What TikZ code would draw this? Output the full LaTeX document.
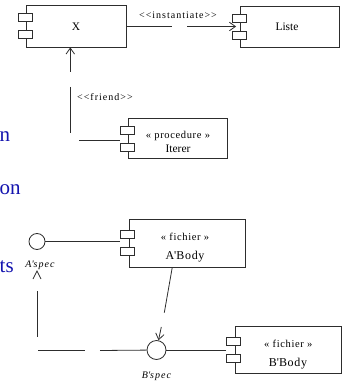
\documentclass[tikz,border=0pt]{standalone}
\usepackage{fontspec}
\setmainfont{Liberation Serif}
\usetikzlibrary{arrows.meta}

\definecolor{slideblue}{RGB}{20,20,175}
\definecolor{umlline}{RGB}{45,45,45}

\tikzset{
  compbox/.style={draw=umlline, line width=0.8pt, rectangle, inner sep=0pt},
  comptab/.style={draw=umlline, fill=white, line width=0.8pt, rectangle,
                  minimum width=14pt, minimum height=8pt, inner sep=0pt},
  iface/.style={draw=umlline, line width=0.8pt, circle, inner sep=0pt},
  conn/.style={draw=umlline, line width=0.8pt},
  openarrow/.style={-{Straight Barb[length=6pt,width=8.5pt]}},
  nametext/.style={inner sep=0pt, font=\fontsize{11.5}{13}\selectfont},
  bodytext/.style={inner sep=0pt, font=\fontsize{12}{14}\selectfont\addfontfeature{LetterSpace=6}},
  stereotext/.style={inner sep=0pt, font=\fontsize{10.5}{12}\selectfont\addfontfeature{LetterSpace=6}},
  deptext/.style={inner sep=0pt, font=\fontsize{10}{11}\selectfont\addfontfeature{LetterSpace=10}},
  ifacetext/.style={inner sep=0pt, font=\fontsize{10}{11}\selectfont\itshape\addfontfeature{LetterSpace=10}},
  slidetext/.style={inner sep=0pt, anchor=base west, text=slideblue,
                    font=\fontsize{21}{24}\selectfont},
}

% A component: a box with its two tabs straddling the left edge
\newcommand\umlcomp[4]{%
  \node[compbox, minimum width=#3, minimum height=#4] (#1) at #2 {};
  \node[comptab] (#1-a) at ([xshift=-1pt,yshift=8.5pt]#1.west) {};
  \node[comptab] (#1-b) at ([xshift=-1pt,yshift=-8.5pt]#1.west) {};
}

\begin{document}
\begin{tikzpicture}[x=1pt,y=-1pt]
  \useasboundingbox (0,0) rectangle (345,387);

  % slide text, cut at the left border
  \node[slidetext] (s1) at (-0.5,141.5) {n};
  \node[slidetext] (s2) at (-0.5,194) {on};
  \node[slidetext] (s3) at (-0.5,272) {ts};

  % components
  \umlcomp{X}{(76.25,26.25)}{99.5pt}{41.5pt}
  \umlcomp{Liste}{(289.75,26.5)}{98.5pt}{41pt}
  \umlcomp{Proc}{(178,138.5)}{99pt}{40pt}
  \umlcomp{ABody}{(187.25,243.25)}{116.5pt}{47.5pt}
  \umlcomp{BBody}{(288.25,350)}{106.5pt}{47pt}

  \node[nametext] (tX) at (76,26.7) {X};
  \node[nametext] (tListe) at (287,26.5) {Liste};
  \node[stereotext] (tProcS) at (178,136) {« procedure »};
  \node[nametext] (tProc) at (178,148.3) {Iterer};
  \node[stereotext] (tAS) at (185,237.3) {« fichier »};
  \node[bodytext] (tA) at (185,256.7) {A\textquotesingle Body};
  \node[stereotext] (tBS) at (288.3,344) {« fichier »};
  \node[bodytext] (tB) at (288,363.3) {B\textquotesingle Body};

  % interfaces
  \node[iface, minimum size=16pt] (ASpec) at (37,241.5) {};
  \node[iface, minimum size=19pt] (BSpec) at (156.5,350) {};
  \node[ifacetext] (tASpec) at (40,265) {A\textquotesingle spec};
  \node[ifacetext] (tBSpec) at (156.5,376) {B\textquotesingle spec};

  % <<instantiate>> dependency
  \coordinate (i1) at (172,26.25);
  \coordinate (i2) at (187,26.5);
  \draw[conn] (X.east) -- (i1);
  \draw[conn, openarrow, shorten >=4pt] (i2) -- (Liste.west);
  \node[deptext] (tInst) at (178,15) {<{}<instantiate>{}>};

  % <<friend>> dependency
  \coordinate (f1) at (70.3,72);
  \coordinate (f2) at (70.3,87);
  \coordinate (f3) at (70.3,133);
  \coordinate (f4) at (79,140.7);
  \draw[conn, openarrow] (f1) -- (f1 |- X.south);
  \draw[conn] (f2) -- (f3);
  \draw[conn] (f4) -- (f4 -| Proc-b.west);
  \node[deptext, anchor=west] (tFriend) at (77,96.7) {<{}<friend>{}>};

  % realisations and use of the interfaces
  \draw[conn] (ASpec) -- (ASpec -| ABody-a.west);
  \draw[conn] (BSpec) -- (BSpec -| BBody-a.west);

  \coordinate (d1) at (164.3,312.7);
  \coordinate (d2) at (161.3,327);
  \draw[conn] ([xshift=-15pt]ABody.south) -- (d1);
  \draw[conn, openarrow] (d2) -- (BSpec);

  \coordinate (aTip) at (37,271);
  \draw[conn] ([shift={(-4,8)}]aTip) -- (aTip) -- ([shift={(4,8)}]aTip);
  \coordinate (v1) at (37.5,291);
  \coordinate (v2) at (37.5,337);
  \draw[conn] (v1) -- (v2);
  \coordinate (h1) at (38.3,350.5);
  \coordinate (h2) at (85,350.5);
  \coordinate (h3) at (100,350.5);
  \draw[conn] (h1) -- (h2);
  \draw[conn] (h3) -- (BSpec);
\end{tikzpicture}
\end{document}
